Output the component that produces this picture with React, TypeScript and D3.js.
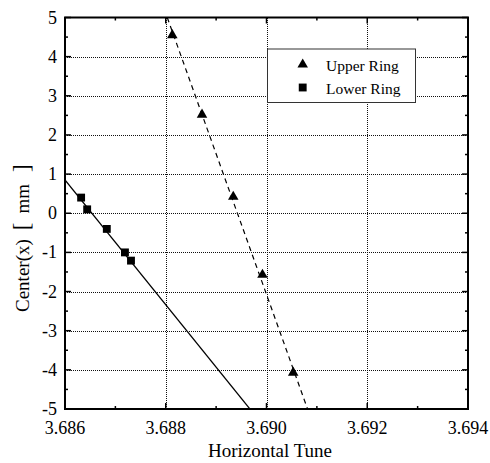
import React from "react";
import * as d3 from "d3";

const xTicks = [3.686, 3.688, 3.69, 3.692, 3.694];
const xMinor = [3.687, 3.689, 3.691, 3.693];
const yTicks = [-5, -4, -3, -2, -1, 0, 1, 2, 3, 4, 5];
const yMinor = [-4.5, -3.5, -2.5, -1.5, -0.5, 0.5, 1.5, 2.5, 3.5, 4.5];

const upperX = [3.68813, 3.68872, 3.68934, 3.68992, 3.69053];
const upperY = [4.55, 2.52, 0.42, -1.57, -4.07];
const lowerX = [3.68632, 3.68644, 3.68683, 3.68719, 3.68731];
const lowerY = [0.4, 0.1, -0.4, -1.0, -1.21];

const upperFitX = [3.68803, 3.690815];
const upperFitY = [5, -5];
const lowerFitX = [3.686, 3.68967];
const lowerFitY = [0.85, -5];

const seriesNames = ["Upper Ring", "Lower Ring"];

const W = 490;
const H = 463;
const L = 65, R = 468, T = 17.5, B = 409;
const FONT = "Liberation Serif, Times New Roman, Times, serif";

export default function App() {
  const x = d3.scaleLinear().domain([3.686, 3.694]).range([L, R]);
  const y = d3.scaleLinear().domain([-5, 5]).range([B, T]);
  const px = (v: number) => Math.round(v) + 0.5;
  const line = d3.line<[number, number]>().x((d) => x(d[0])).y((d) => y(d[1]));
  const tri = d3.symbol().type(d3.symbolTriangle).size(48)() as string;
  const sq = d3.symbol().type(d3.symbolSquare).size(62)() as string;
  const upperFit: [number, number][] = upperFitX.map((v, i) => [v, upperFitY[i]]);
  const lowerFit: [number, number][] = lowerFitX.map((v, i) => [v, lowerFitY[i]]);
  const ts = { fontFamily: FONT };

  return (
    <svg width={W} height={H} style={{ position: "absolute", left: 0, top: 0, background: "#fff" }}>
      <defs>
        <clipPath id="plot">
          <rect x={L} y={T} width={R - L} height={B - T} />
        </clipPath>
      </defs>
      {/* grid */}
      <g stroke="#111" strokeWidth={1} strokeDasharray="1,1" shapeRendering="crispEdges">
        {xTicks.slice(1, -1).map((t) => (
          <line key={"gx" + t} x1={px(x(t))} x2={px(x(t))} y1={T} y2={B} />
        ))}
        {yTicks.slice(1, -1).map((t) => (
          <line key={"gy" + t} x1={L} x2={R} y1={px(y(t))} y2={px(y(t))} />
        ))}
      </g>
      {/* ticks */}
      <g stroke="#000" strokeWidth={1.5}>
        {xTicks.map((t) => (
          <g key={"xt" + t}>
            <line x1={x(t)} x2={x(t)} y1={B} y2={B - 6} />
            <line x1={x(t)} x2={x(t)} y1={T} y2={T + 6} />
          </g>
        ))}
        {xMinor.map((t) => (
          <g key={"xm" + t}>
            <line x1={x(t)} x2={x(t)} y1={B} y2={B - 3} />
            <line x1={x(t)} x2={x(t)} y1={T} y2={T + 3} />
          </g>
        ))}
        {yTicks.map((t) => (
          <g key={"yt" + t}>
            <line x1={L} x2={L + 6} y1={y(t)} y2={y(t)} />
            <line x1={R} x2={R - 6} y1={y(t)} y2={y(t)} />
          </g>
        ))}
        {yMinor.map((t) => (
          <g key={"ym" + t}>
            <line x1={L} x2={L + 3} y1={y(t)} y2={y(t)} />
            <line x1={R} x2={R - 3} y1={y(t)} y2={y(t)} />
          </g>
        ))}
      </g>
      {/* fit lines */}
      <g clipPath="url(#plot)" fill="none" stroke="#000" strokeWidth={1.2}>
        <path d={line(upperFit) as string} strokeDasharray="5,4" />
        <path d={line(lowerFit) as string} />
      </g>
      {/* markers */}
      {upperX.map((v, i) => (
        <path key={"u" + i} d={tri} transform={`translate(${x(v)},${y(upperY[i])})`} fill="#000" />
      ))}
      {lowerX.map((v, i) => (
        <path key={"l" + i} d={sq} transform={`translate(${x(v)},${y(lowerY[i])})`} fill="#000" />
      ))}
      {/* frame */}
      <rect x={L} y={T} width={R - L} height={B - T} fill="none" stroke="#000" strokeWidth={2} />
      {/* tick labels */}
      <g fontSize={18} fill="#000" style={ts}>
        {xTicks.map((t) => (
          <text key={"xl" + t} x={x(t)} y={434} textAnchor="middle" style={ts}>
            {d3.format(".3f")(t)}
          </text>
        ))}
        {yTicks.map((t) => (
          <text key={"yl" + t} x={57} y={y(t) + 6} textAnchor="end" style={ts}>
            {t}
          </text>
        ))}
      </g>
      {/* axis titles */}
      <text x={270} y={457} textAnchor="middle" fontSize={19} style={ts}>
        Horizontal Tune
      </text>
      <text transform="translate(29,312) rotate(-90)" fontSize={19} style={ts}>
        Center(x)
        <tspan dx={9} fontSize={23}>[</tspan>
        <tspan dx={9}>mm</tspan>
        <tspan dx={12} fontSize={23}>]</tspan>
      </text>
      {/* legend */}
      <rect x={267.5} y={49} width={148} height={53.5} fill="#fff" stroke="#333" strokeWidth={1} />
      <path d={tri} transform="translate(302.7,64.5)" fill="#000" />
      <path d={sq} transform="translate(302.7,87.5)" fill="#000" />
      <text x={326} y={70.5} fontSize={15.5} style={ts}>{seriesNames[0]}</text>
      <text x={326} y={93.5} fontSize={15.5} style={ts}>{seriesNames[1]}</text>
    </svg>
  );
}
